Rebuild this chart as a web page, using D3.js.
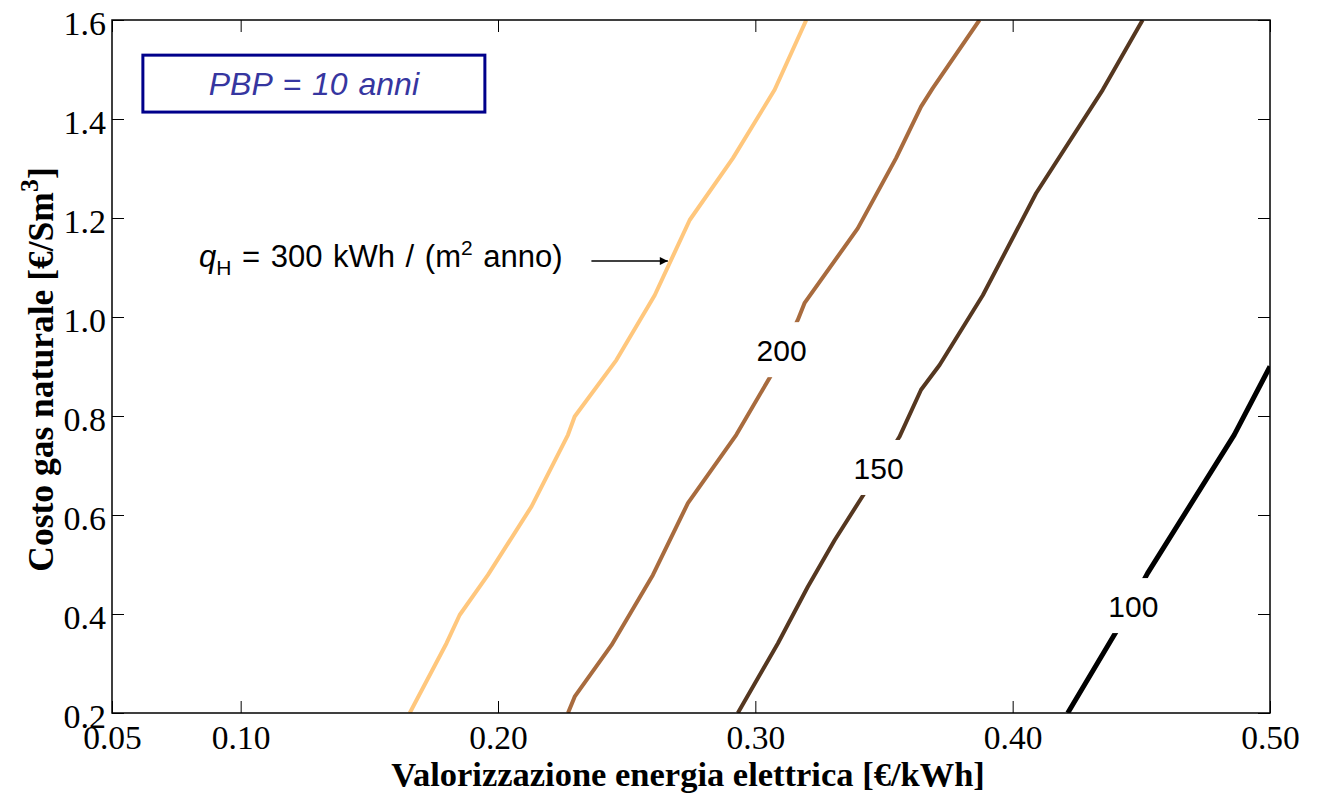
<!DOCTYPE html>
<html>
<head>
<meta charset="utf-8">
<script src="https://cdn.jsdelivr.net/npm/d3@7"></script>
<style>
  body { margin: 0; background: #fff; }
  svg { display: block; }
</style>
</head>
<body>
<script>
// contour levels of q_H [kWh/(m2 anno)], PBP = 10 anni
const levels = [300, 200, 150, 100];
const levelColors = ["#ffc77d", "#a86b3e", "#553720", "#000000"];

// [valorizzazione €/kWh, costo gas €/Sm3]
const curve300 = [[0.1657,0.2],[0.180,0.341],[0.1851,0.398],[0.1961,0.479],[0.213,0.617],[0.2272,0.762],
  [0.2298,0.799],[0.246,0.913],[0.2609,1.044],[0.2745,1.196],[0.2913,1.321],[0.3075,1.459],[0.3198,1.6]];
const curve200 = [[0.2272,0.2],[0.2298,0.233],[0.2441,0.337],[0.2602,0.479],[0.2738,0.624],[0.2926,0.762],
  [0.3062,0.883],[0.3165,0.994],[0.3191,1.028],[0.3398,1.179],[0.3547,1.321],[0.3644,1.425],[0.3689,1.462],[0.3871,1.6]];
const curve150 = [[0.2932,0.2],[0.3088,0.341],[0.3204,0.455],[0.3308,0.549],[0.3424,0.644],[0.356,0.758],
  [0.3644,0.853],[0.3716,0.903],[0.3884,1.044],[0.4091,1.25],[0.435,1.459],[0.4505,1.6]];
const curve100 = [[0.4214,0.2],[0.4402,0.364],[0.4524,0.482],[0.4861,0.762],[0.5,0.9]];
const curves = [curve300, curve200, curve150, curve100];

// inline contour labels (300 is labelled by the arrow note instead)
const labelLevels = [200, 150, 100];
const labelAt = [[0.3102,0.933],[0.3479,0.695],[0.4469,0.416]];

const xTicks = [0.05, 0.10, 0.20, 0.30, 0.40, 0.50];
const yTicks = [0.2, 0.4, 0.6, 0.8, 1.0, 1.2, 1.4, 1.6];
const xTickLabels = ["0.05", "0.10", "0.20", "0.30", "0.40", "0.50"];

const width = 1320, height = 795;
const plot = {left: 112, right: 1270, top: 20, bottom: 713};

const x = d3.scaleLinear().domain([0.05, 0.5]).range([plot.left, plot.right]);
const y = d3.scaleLinear().domain([0.2, 1.6]).range([plot.bottom, plot.top]);
const color = d3.scaleOrdinal(levels, levelColors);

const svg = d3.select("body").append("svg")
  .attr("width", width)
  .attr("height", height);

svg.append("defs").append("clipPath").attr("id", "clip")
  .append("rect")
  .attr("x", plot.left).attr("y", plot.top)
  .attr("width", plot.right - plot.left).attr("height", plot.bottom - plot.top);

svg.append("defs").append("marker")
  .attr("id", "arrow")
  .attr("viewBox", "0 0 10 10")
  .attr("refX", 10).attr("refY", 5)
  .attr("markerWidth", 9).attr("markerHeight", 8)
  .attr("markerUnits", "userSpaceOnUse")
  .attr("orient", "auto")
  .append("path").attr("d", "M0,0L10,5L0,10z").attr("fill", "#000");

// contour lines
const line = d3.line().x(d => x(d[0])).y(d => y(d[1]));
svg.append("g").attr("clip-path", "url(#clip)")
  .selectAll("path")
  .data(curves)
  .join("path")
  .attr("d", line)
  .attr("fill", "none")
  .attr("stroke", (d, i) => color(levels[i]))
  .attr("stroke-width", (d, i) => levels[i] === 100 ? 5 : 4)
  .attr("stroke-linejoin", "round");

// contour labels with white knock-out
const lab = svg.append("g").selectAll("g")
  .data(labelLevels)
  .join("g")
  .attr("transform", (d, i) => "translate(" + x(labelAt[i][0]) + "," + y(labelAt[i][1]) + ")");
lab.append("rect")
  .attr("x", -30).attr("y", -28)
  .attr("width", 60).attr("height", 55)
  .attr("fill", "#fff");
lab.append("text")
  .attr("text-anchor", "middle")
  .attr("dy", "0.36em")
  .attr("font-family", "'Liberation Sans', Arial, sans-serif")
  .attr("font-size", 30)
  .text(d => d);

// axes, ticks pointing inward
const axisFont = "'Liberation Serif', 'Times New Roman', serif";
const gx = svg.append("g")
  .attr("transform", "translate(0," + plot.bottom + ")")
  .call(d3.axisBottom(x).tickValues(xTicks).tickFormat((d, i) => xTickLabels[i])
    .tickSize(-12).tickSizeOuter(0).tickPadding(12));
const gy = svg.append("g")
  .attr("transform", "translate(" + plot.left + ",0)")
  .call(d3.axisLeft(y).tickValues(yTicks).tickFormat(d3.format(".1f"))
    .tickSize(-12).tickSizeOuter(0).tickPadding(6));
svg.append("g")
  .attr("transform", "translate(0," + plot.top + ")")
  .call(d3.axisTop(x).tickValues(xTicks).tickFormat("").tickSize(-12).tickSizeOuter(0));
svg.append("g")
  .attr("transform", "translate(" + plot.right + ",0)")
  .call(d3.axisRight(y).tickValues(yTicks).tickFormat("").tickSize(-12).tickSizeOuter(0));

svg.selectAll(".domain").remove();
svg.selectAll(".tick line").attr("stroke", "#000").attr("stroke-width", 1);
svg.selectAll(".tick text")
  .attr("font-family", axisFont)
  .attr("font-size", 34)
  .attr("fill", "#000");
gx.selectAll(".tick text").attr("font-size", 33.5);
gy.selectAll(".tick text").attr("dy", "0.42em");

svg.append("rect")
  .attr("x", plot.left).attr("y", plot.top)
  .attr("width", plot.right - plot.left).attr("height", plot.bottom - plot.top)
  .attr("fill", "none")
  .attr("stroke", "#000")
  .attr("stroke-width", 1.5);

// axis titles
svg.append("text")
  .attr("x", (plot.left + plot.right) / 2 - 3)
  .attr("y", 786)
  .attr("text-anchor", "middle")
  .attr("font-family", axisFont)
  .attr("font-weight", "bold")
  .attr("font-size", 34.5)
  .text("Valorizzazione energia elettrica [€/kWh]");

const yTitle = svg.append("text")
  .attr("transform", "translate(53," + ((plot.top + plot.bottom) / 2 + 3) + ") rotate(-90)")
  .attr("text-anchor", "middle")
  .attr("font-family", axisFont)
  .attr("font-weight", "bold")
  .attr("font-size", 35.5);
yTitle.append("tspan").text("Costo gas naturale [€/Sm");
yTitle.append("tspan").attr("font-size", 26).attr("dy", -15).text("3");
yTitle.append("tspan").attr("dy", 15).text("]");

// PBP box
const boxX = [0.062, 0.1949], boxY = [1.529, 1.414];
svg.append("rect")
  .attr("x", x(boxX[0])).attr("y", y(boxY[0]))
  .attr("width", x(boxX[1]) - x(boxX[0]))
  .attr("height", y(boxY[1]) - y(boxY[0]))
  .attr("fill", "#fff")
  .attr("stroke", "#00008b")
  .attr("stroke-width", 3);
svg.append("text")
  .attr("x", (x(boxX[0]) + x(boxX[1])) / 2)
  .attr("y", (y(boxY[0]) + y(boxY[1])) / 2)
  .attr("dy", "0.36em")
  .attr("text-anchor", "middle")
  .attr("font-family", "'Liberation Sans', Arial, sans-serif")
  .attr("font-style", "italic")
  .attr("font-size", 32)
  .attr("word-spacing", 2)
  .attr("fill", "#3636a0")
  .text("PBP = 10 anni");

// arrow note for the 300 curve
const noteX = 0.2251, noteY = 1.101, arrowX = [0.2363, 0.266], arrowY = 1.113;
const note = svg.append("text")
  .attr("x", x(noteX)).attr("y", y(noteY))
  .attr("text-anchor", "end")
  .attr("font-family", "'Liberation Sans', Arial, sans-serif")
  .attr("font-size", 31)
  .attr("word-spacing", 2)
  .attr("fill", "#000");
note.append("tspan").attr("font-style", "italic").text("q");
note.append("tspan").attr("font-size", 21).attr("dy", 8).text("H");
note.append("tspan").attr("dy", -8).text(" = 300 kWh / (m");
note.append("tspan").attr("font-size", 21).attr("dy", -12).text("2");
note.append("tspan").attr("dy", 12).text(" anno)");

svg.append("line")
  .attr("x1", x(arrowX[0])).attr("x2", x(arrowX[1]))
  .attr("y1", y(arrowY)).attr("y2", y(arrowY))
  .attr("stroke", "#000")
  .attr("stroke-width", 1.5)
  .attr("marker-end", "url(#arrow)");
</script>
</body>
</html>
